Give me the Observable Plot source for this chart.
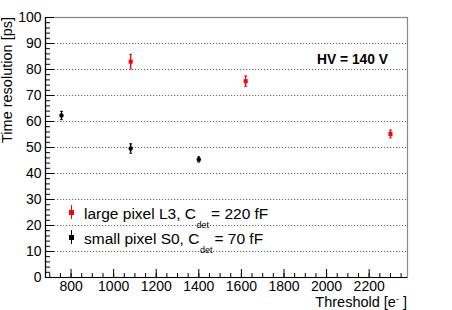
<!DOCTYPE html>
<html>
<head>
<meta charset="utf-8">
<script src="https://cdn.jsdelivr.net/npm/d3@7"></script>
<script src="https://cdn.jsdelivr.net/npm/@observablehq/plot@0.6"></script>
<style>
  body { margin: 0; background: #fff; }
  #wrap { position: relative; width: 452px; height: 310px; font-family: "Liberation Sans", Arial, Helvetica, sans-serif; color: #000; }
  .ov { position: absolute; white-space: nowrap; line-height: 1; }
  .leg { font-size: 15.5px; }
  .leg sub { font-size: 9px; vertical-align: -9px; line-height: 0; margin-left: 0.5px; margin-right: 2px; }
  .mk { position: absolute; width: 1.4px; height: 14px; }
  .mk i { position: absolute; left: -1.6px; top: 5px; width: 4.5px; height: 4.5px; }
</style>
</head>
<body>
<div id="wrap"></div>
<script>
// ---- data ----
const largeThreshold = [1080, 1620, 2300];
const largeRes       = [83.0, 75.5, 55.2];
const largeErr       = [2.8, 2.0, 1.5];

const smallThreshold = [755, 1080, 1400];
const smallRes       = [62.3, 49.6, 45.4];
const smallErr       = [1.6, 1.8, 1.0];

const xDomain = [680, 2380];
const yDomain = [0, 100];
const xMajor = [800, 1000, 1200, 1400, 1600, 1800, 2000, 2200];
const xMinor = d3.range(700, 2380, 50);
const yMajor = d3.range(0, 101, 10);
const yMinor = d3.range(0, 101, 2);
const gridY  = d3.range(10, 100, 10);

const large = largeThreshold.map((x, i) => ({x, y: largeRes[i], e: largeErr[i]}));
const small = smallThreshold.map((x, i) => ({x, y: smallRes[i], e: smallErr[i]}));

const hcap = {draw(ctx, size) { const r = Math.sqrt(size / Math.PI); ctx.moveTo(-r, 0); ctx.lineTo(r, 0); }};

const font = "Liberation Sans, Arial, Helvetica, sans-serif";

const chart = Plot.plot({
  width: 452,
  height: 310,
  marginLeft: 45,
  marginRight: 45,
  marginTop: 17,
  marginBottom: 33,
  style: {fontFamily: font, fontSize: "14px", background: "#fff", color: "#000"},
  x: {domain: xDomain},
  y: {domain: yDomain},
  marks: [
    Plot.gridY(gridY, {stroke: "#444", strokeOpacity: 0.9, strokeDasharray: "1.2,1.8", strokeWidth: 0.9}),
    Plot.frame({stroke: "#888", strokeWidth: 1.2}),
    Plot.ruleX([xDomain[0]], {stroke: "#000", strokeWidth: 1.2}),
    Plot.ruleY([yDomain[0]], {stroke: "#000", strokeWidth: 1.2}),
    // y axis: labels, major and minor inward ticks
    Plot.axisY(yMajor, {tickSize: 0, tickPadding: 4, fontSize: 14, label: null}),
    Plot.axisY(yMajor, {tickSize: -9, text: null, label: null, stroke: "#000"}),
    Plot.axisY(yMinor, {tickSize: -5, text: null, label: null, stroke: "#000"}),
    // x axis
    Plot.axisX(xMajor, {tickSize: 0, tickPadding: 4, fontSize: 14, tickFormat: "d", label: null}),
    Plot.axisX(xMajor, {tickSize: -8, text: null, label: null, stroke: "#000"}),
    Plot.axisX(xMinor, {tickSize: -4, text: null, label: null, stroke: "#000"}),
    // small pixel (black)
    Plot.ruleX(small, {x: "x", y1: d => d.y - d.e, y2: d => d.y + d.e, stroke: "#000", strokeWidth: 1.3}),
    Plot.dot(small, {x: "x", y: d => d.y - d.e, symbol: hcap, r: 1.4, stroke: "#000", strokeWidth: 1}),
    Plot.dot(small, {x: "x", y: d => d.y + d.e, symbol: hcap, r: 1.4, stroke: "#000", strokeWidth: 1}),
    Plot.dot(small, {x: "x", y: "y", symbol: "circle", r: 2.2, fill: "#000"}),
    // large pixel (red)
    Plot.ruleX(large, {x: "x", y1: d => d.y - d.e, y2: d => d.y + d.e, stroke: "#f00", strokeWidth: 1.3}),
    Plot.dot(large, {x: "x", y: d => d.y - d.e, symbol: hcap, r: 1.4, stroke: "#f00", strokeWidth: 1}),
    Plot.dot(large, {x: "x", y: d => d.y + d.e, symbol: hcap, r: 1.4, stroke: "#f00", strokeWidth: 1}),
    Plot.dot(large, {x: "x", y: "y", symbol: "square", r: 2.3, fill: "#f00"})
  ]
});

const wrap = document.getElementById("wrap");
wrap.appendChild(chart);

function add(html, css, cls) {
  const d = document.createElement("div");
  d.className = "ov " + (cls || "");
  d.innerHTML = html;
  Object.assign(d.style, css);
  wrap.appendChild(d);
  return d;
}

// Axis titles
add("Time resolution [ps]", {fontSize: "14.5px", width: "200px", textAlign: "right", left: "0px", top: (17 + 200) + "px", transformOrigin: "0 0", transform: "rotate(-90deg)"});
add('Threshold [e<sup style="font-size:9px;vertical-align:5px;line-height:0">-</sup> ]', {fontSize: "14.5px", right: (452 - 407) + "px", top: "295px"});

// annotation
add("HV = 140 V", {fontSize: "13.8px", fontWeight: "bold", left: "317px", top: "53px"});

// legend
add('large pixel L3, C<sub>det</sub>= 220 fF', {left: "84px", top: "206px"}, "leg");
add('small pixel S0, C<sub>det</sub>= 70 fF', {left: "84px", top: "231px"}, "leg");
function marker(color, top) {
  const m = document.createElement("div");
  m.className = "mk";
  m.style.left = "71px";
  m.style.top = top + "px";
  m.style.background = color;
  const i = document.createElement("i");
  i.style.background = color;
  m.appendChild(i);
  wrap.appendChild(m);
}
marker("#f00", 205);
marker("#000", 230);
</script>
</body>
</html>
